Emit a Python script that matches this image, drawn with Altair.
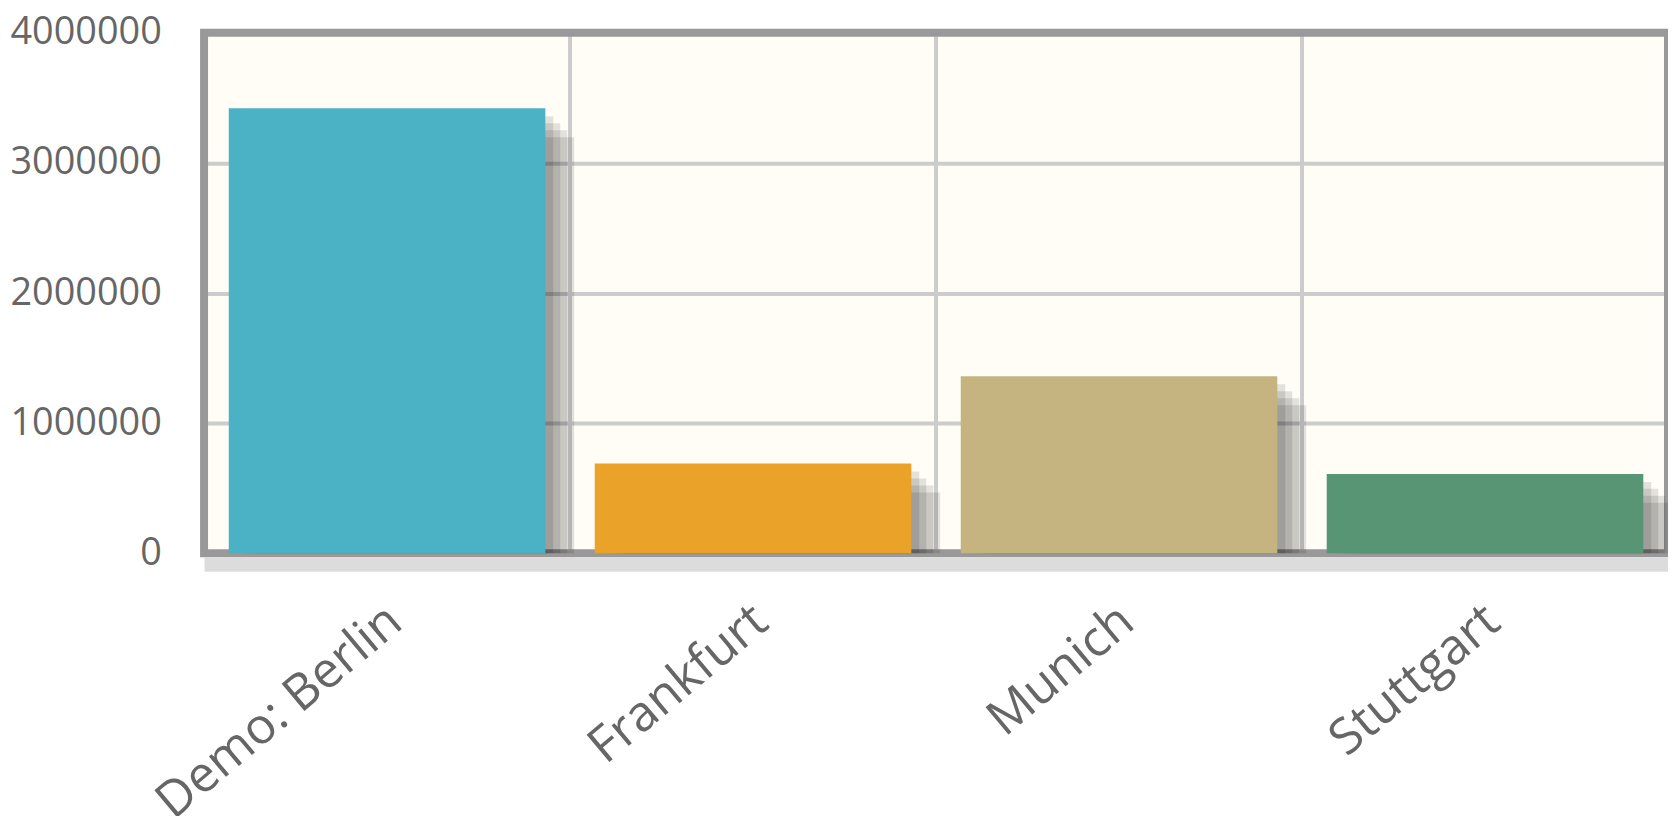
import altair as alt
import pandas as pd

# ---- data ----
cities = ["Demo: Berlin", "Frankfurt", "Munich", "Stuttgart"]
population = [3420000, 690000, 1360000, 610000]
bar_colors = ["#4bb2c5", "#eaa228", "#c5b47f", "#579575"]
y_ticks = [0, 1000000, 2000000, 3000000, 4000000]
shadow_offsets = [8, 15, 22, 29]

df = pd.DataFrame({"city": cities, "population": population})
vgrid_df = pd.DataFrame({"city": cities[1:]})
frame_df = pd.DataFrame({"k": [0]})

x_scale = alt.Scale(domain=cities, paddingInner=0, paddingOuter=0)
y_scale = alt.Scale(domain=[0, 4000000], nice=False)

x_axis = alt.Axis(
    title=None, ticks=False, grid=False,
    domain=True, domainColor="#dcdcdc", domainWidth=14, offset=11,
    labelAngle=-40, labelAlign="right", labelBaseline="alphabetic",
    labelPadding=62, labelOffset=18, labelLimit=0,
    labelFont="Open Sans", labelFontSize=50, labelColor="#666666",
)
y_axis = alt.Axis(
    title=None, values=y_ticks, format="d", ticks=False, domain=False,
    grid=True, gridColor="#cccccc", gridWidth=4,
    labelPadding=43, labelFont="Open Sans", labelFontSize=38, labelColor="#666666",
)

# vertical grid lines at band boundaries
vgrid = alt.Chart(vgrid_df).mark_rule(color="#cccccc", strokeWidth=4).encode(
    x=alt.X("city:N", scale=x_scale, axis=x_axis, bandPosition=0),
)

# plot frame
frame = alt.Chart(frame_df).mark_rect(
    filled=False, stroke="#999999", strokeWidth=8
).encode(
    x=alt.value(0), x2=alt.value("width"), y=alt.value(0), y2=alt.value("height")
)

shadows = [
    alt.Chart(df).mark_bar(
        color="black", opacity=0.11, xOffset=d, yOffset=d, clip=True,
        width=alt.RelativeBandSize(0.865),
    ).encode(
        x=alt.X("city:N", scale=x_scale, axis=x_axis),
        y=alt.Y("population:Q", scale=y_scale, axis=y_axis),
    )
    for d in shadow_offsets
]

bars = alt.Chart(df).mark_bar(width=alt.RelativeBandSize(0.865)).encode(
    x=alt.X("city:N", scale=x_scale, axis=x_axis),
    y=alt.Y("population:Q", scale=y_scale, axis=y_axis),
    color=alt.Color("city:N", scale=alt.Scale(domain=cities, range=bar_colors), legend=None),
)

chart = alt.layer(vgrid, frame, *shadows, bars).properties(
    width=1471,
    height=523,
    autosize=alt.AutoSizeParams(type="none"),
    padding={"left": 197, "top": 23, "right": 0, "bottom": 262},
    background="white",
).configure_view(fill="#fffdf6", stroke=None)

chart.save("out.html", embed_options={"renderer": "svg", "actions": False})
